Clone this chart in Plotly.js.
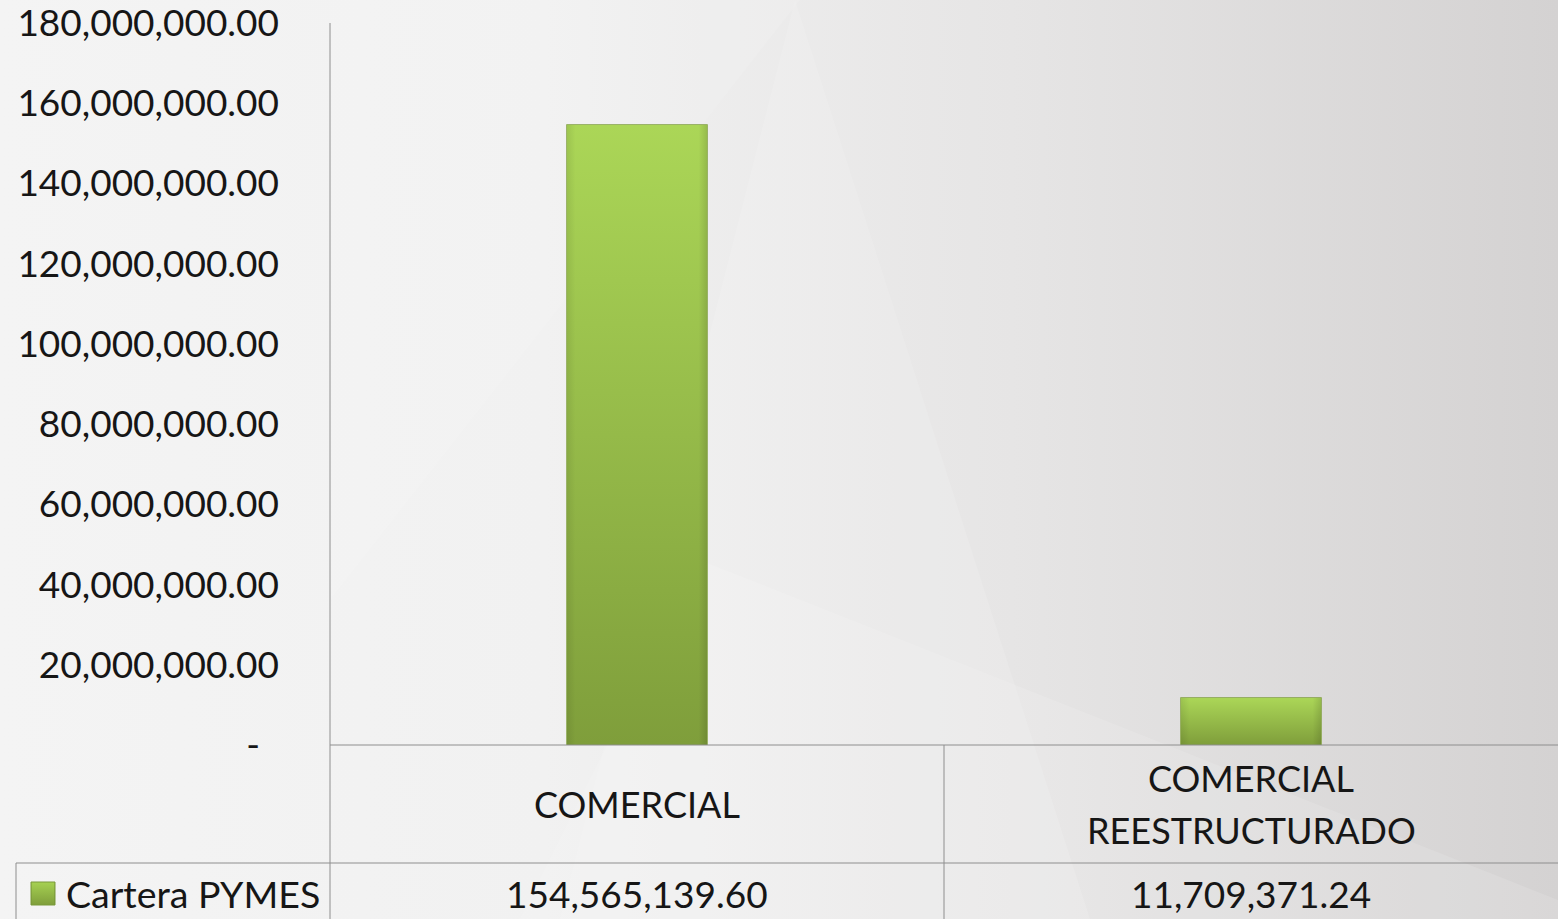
<!DOCTYPE html>
<html>
<head>
<meta charset="utf-8">
<script src="https://cdn.plot.ly/plotly-3.0.1.min.js"></script>
<style>
  html, body { margin: 0; padding: 0; width: 1558px; height: 919px; overflow: hidden; }
  body {
    background:
      url("data:image/svg+xml;utf8,<svg xmlns='http://www.w3.org/2000/svg' width='1558' height='919'><polygon points='795,0 1090,919 560,919' fill='white' fill-opacity='0.12'/><polygon points='330,0 800,0 330,600' fill='white' fill-opacity='0.1'/><polygon points='700,560 1558,900 1558,919 520,919' fill='white' fill-opacity='0.12'/></svg>") no-repeat,
      linear-gradient(to right, #f4f4f4 0%, #f1f1f1 35%, #e6e5e5 65%, #d4d2d2 100%);
  }
  #chart { width: 1558px; height: 919px; }
</style>
</head>
<body>
<div id="chart"></div>
<script>
const categories = ['COMERCIAL', 'COMERCIAL REESTRUCTURADO'];
const categoryLines = [['COMERCIAL'], ['COMERCIAL', 'REESTRUCTURADO']];
const seriesName = 'Cartera PYMES';
const values = [154565139.60, 11709371.24];
const valueLabels = ['154,565,139.60', '11,709,371.24'];
const tickVals = [0, 20000000, 40000000, 60000000, 80000000, 100000000, 120000000, 140000000, 160000000, 180000000];
const tickLabels = ['-\u00a0\u00a0', '20,000,000.00', '40,000,000.00', '60,000,000.00', '80,000,000.00',
  '100,000,000.00', '120,000,000.00', '140,000,000.00', '160,000,000.00', '180,000,000.00'];

const FONT = 'Lato, "Open Sans", sans-serif';
const FS_NUM = 37;
const FS_TXT = 36;
const W = 1558, H = 919;
const L = 330, T = 23, B = 174;
const plotW = W - L, plotH = H - T - B;
const px2x = p => (p - L) / plotW;
const py2y = p => (H - B - p) / plotH;
const GRID = '#8e8e8e';
const TXT = '#161616';
const BAR_W = 0.228;

const gradSvg = (top, bottom) => 'data:image/svg+xml;utf8,' + encodeURIComponent(
  "<svg xmlns='http://www.w3.org/2000/svg' width='100' height='100' viewBox='0 0 100 100' preserveAspectRatio='none'>" +
  "<defs><linearGradient id='g' x1='0' y1='0' x2='0' y2='1'><stop offset='0' stop-color='" + top + "'/>" +
  "<stop offset='1' stop-color='" + bottom + "'/></linearGradient>" +
  "<linearGradient id='h' x1='0' y1='0' x2='1' y2='0'><stop offset='0' stop-color='black' stop-opacity='0.08'/>" +
  "<stop offset='0.06' stop-color='black' stop-opacity='0'/><stop offset='0.94' stop-color='black' stop-opacity='0'/>" +
  "<stop offset='1' stop-color='black' stop-opacity='0.12'/></linearGradient></defs>" +
  "<rect width='100' height='100' fill='url(#g)'/><rect width='100' height='100' fill='url(#h)'/></svg>");

const annotations = [];
categoryLines.forEach((lines, i) => {
  const ys = lines.length === 1 ? [804] : [778, 830];
  lines.forEach((t, j) => {
    annotations.push({ x: categories[i], xref: 'x', y: py2y(ys[j]), yref: 'paper',
      text: t, showarrow: false, xanchor: 'center', yanchor: 'middle',
      font: { family: FONT, size: FS_TXT, color: TXT } });
  });
});
values.forEach((v, i) => {
  annotations.push({ x: categories[i], xref: 'x', y: py2y(893), yref: 'paper',
    text: valueLabels[i], showarrow: false, xanchor: 'center', yanchor: 'middle',
    font: { family: FONT, size: FS_NUM, color: TXT } });
});
annotations.push({ x: px2x(64), xref: 'paper', y: py2y(893), yref: 'paper',
  text: seriesName, showarrow: false, xanchor: 'left', yanchor: 'middle',
  font: { family: FONT, size: 37.5, color: TXT } });

const shapes = [
  { type: 'line', xref: 'paper', yref: 'paper', x0: 0, x1: 0, y0: 1, y1: py2y(H), line: { color: GRID, width: 1 } },
  { type: 'line', xref: 'paper', yref: 'paper', x0: 0, x1: 1, y0: 0, y1: 0, line: { color: GRID, width: 1 } },
  { type: 'line', xref: 'paper', yref: 'paper', x0: px2x(16), x1: 1, y0: py2y(863), y1: py2y(863), line: { color: GRID, width: 1 } },
  { type: 'line', xref: 'x', yref: 'paper', x0: 0.5, x1: 0.5, y0: 0, y1: py2y(H), line: { color: GRID, width: 1 } },
  { type: 'line', xref: 'paper', yref: 'paper', x0: px2x(16), x1: px2x(16), y0: py2y(863), y1: py2y(H), line: { color: GRID, width: 1 } },
  { type: 'rect', xref: 'paper', yref: 'paper', x0: px2x(31), x1: px2x(55), y0: py2y(882), y1: py2y(905),
    fillcolor: 'rgba(0,0,0,0)', line: { color: '#7a9a3a', width: 1 }, layer: 'above' }
];

// gradient overlays positioned on the bars through the axes
const images = values.map((v, i) => ({
  source: gradSvg('#abd657', '#7f9e3b'),
  xref: 'x', yref: 'y', x: i - BAR_W / 2, y: v, sizex: BAR_W, sizey: v,
  xanchor: 'left', yanchor: 'top', sizing: 'stretch', layer: 'above'
}));
images.push({
  source: gradSvg('#a6d152', '#7f9e3b'),
  xref: 'paper', yref: 'paper', x: px2x(31), y: py2y(882), sizex: px2x(55) - px2x(31), sizey: py2y(882) - py2y(905),
  xanchor: 'left', yanchor: 'top', sizing: 'stretch', layer: 'above'
});

const trace = {
  type: 'bar',
  x: categories,
  y: values,
  name: seriesName,
  width: BAR_W,
  marker: { color: '#96c147', line: { color: '#7f9f3d', width: 1.5 } },
  hoverinfo: 'x+y'
};

const layout = {
  width: W, height: H,
  margin: { l: L, r: 0, t: T, b: B, pad: 0 },
  paper_bgcolor: 'rgba(0,0,0,0)',
  plot_bgcolor: 'rgba(0,0,0,0)',
  showlegend: false,
  xaxis: { type: 'category', range: [-0.5, 1.5], showticklabels: false, showline: false,
    showgrid: false, zeroline: false, ticks: '', fixedrange: true },
  yaxis: { range: [0, 180000000], tickvals: tickVals, ticktext: tickLabels, showgrid: false,
    zeroline: false, showline: false, ticks: '', ticklabelstandoff: 50, ticklabeloverflow: 'allow',
    tickfont: { family: FONT, size: FS_NUM, color: TXT }, fixedrange: true },
  annotations: annotations,
  shapes: shapes,
  images: images,
  font: { family: FONT }
};

Plotly.newPlot('chart', [trace], layout, { displayModeBar: false, staticPlot: true });
</script>
</body>
</html>
